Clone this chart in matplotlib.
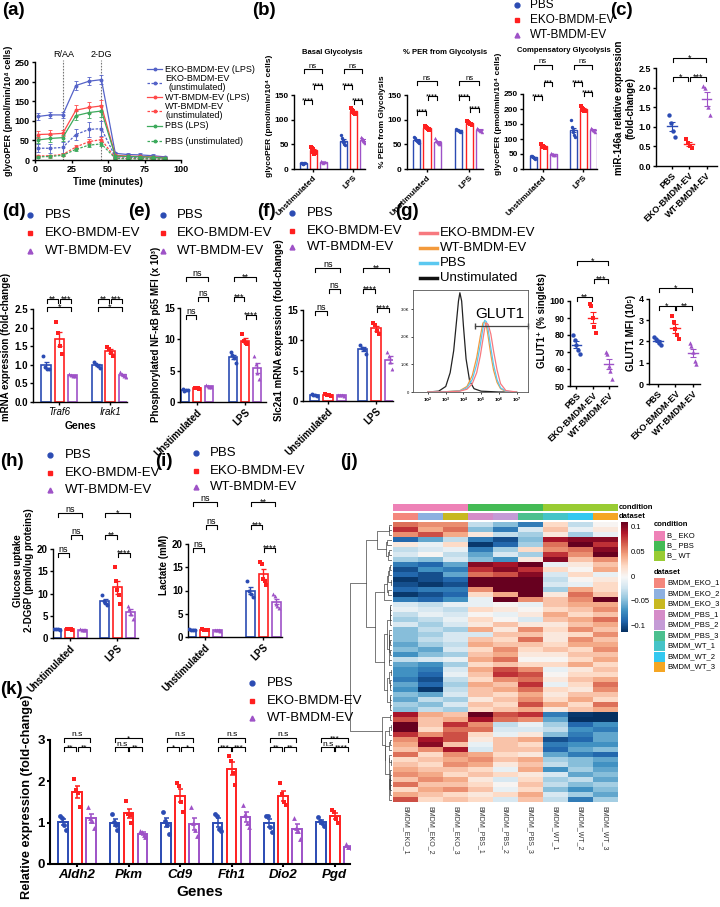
import numpy as np
import matplotlib

matplotlib.use("Agg")
import matplotlib.pyplot as plt
from matplotlib.colors import to_rgb
from matplotlib.lines import Line2D
from matplotlib.patches import Rectangle
from matplotlib.transforms import offset_copy

plt.rcParams["font.family"] = ["Liberation Sans", "DejaVu Sans"]
plt.rcParams["font.weight"] = "bold"
plt.rcParams["axes.labelweight"] = "bold"
plt.rcParams["axes.linewidth"] = 1.0

W, H = 720, 907

GROUPS = ["PBS", "EKO-BMDM-EV", "WT-BMDM-EV"]
COLS = ["#2B4BB3", "#FF1F1F", "#9E52C7"]
MARKS = ["o", "s", "^"]
STIM = ["Unstimulated", "LPS"]

# (a) glycoPER time course
a_time = [2, 10.5, 19, 28, 37, 45.5, 55, 63.5, 72, 80.5, 89]
a_eko_lps = [111, 115, 115, 190, 201, 205, 17, 14, 13, 11, 8]
a_eko_lps_err = [8, 8, 8, 12, 10, 12, 4, 4, 4, 4, 3]
a_eko_un = [30, 30, 32, 65, 78, 80, 8, 7, 6, 5, 4]
a_eko_un_err = [10, 12, 13, 15, 20, 20, 3, 3, 3, 3, 2]
a_wt_lps = [65, 66, 68, 127, 134, 138, 12, 10, 9, 8, 6]
a_wt_lps_err = [8, 10, 8, 14, 14, 15, 3, 3, 3, 3, 2]
a_wt_un = [10, 11, 14, 33, 47, 52, 5, 4, 4, 3, 3]
a_wt_un_err = [3, 3, 4, 5, 6, 6, 2, 2, 2, 2, 1]
a_pbs_lps = [51, 55, 57, 113, 121, 125, 10, 9, 8, 7, 5]
a_pbs_lps_err = [8, 8, 8, 12, 14, 15, 3, 3, 3, 2, 2]
a_pbs_un = [8, 9, 12, 27, 38, 41, 4, 3, 3, 3, 2]
a_pbs_un_err = [3, 3, 3, 4, 5, 5, 1, 1, 1, 1, 1]
a_inject = [19.5, 45.5]
a_inject_lbl = ["R/AA", "2-DG"]

# (b) glycolysis parameters: [unstimulated, LPS] points per group
b_basal_pbs = [[13, 12, 11, 10, 12, 13], [68, 62, 58, 55, 50, 49]]
b_basal_eko = [[45, 43, 40, 35, 30, 33], [123, 120, 118, 115, 113, 112]]
b_basal_wt = [[16, 15, 14, 13, 15, 14], [65, 62, 60, 57, 55, 53]]
b_per_pbs = [[64, 62, 59, 57, 55, 53], [82, 80, 79, 77, 76, 75]]
b_per_eko = [[87, 85, 84, 82, 81, 80], [97, 95, 94, 92, 91, 90]]
b_per_wt = [[62, 58, 56, 53, 51, 50], [83, 81, 80, 78, 77, 76]]
b_comp_pbs = [[45, 43, 41, 39, 37, 35], [162, 140, 130, 125, 115, 108]]
b_comp_eko = [[82, 78, 76, 74, 72, 70], [210, 205, 200, 198, 195, 192]]
b_comp_wt = [[52, 50, 49, 48, 47, 46], [136, 133, 131, 129, 127, 125]]
b_basal_sig = [(0, 0, 1, 140, "****"), (0, 1, 2, 170, "****"), (0, 0, 2, 203, "ns"),
               (1, 0, 1, 170, "****"), (1, 1, 2, 140, "****"), (1, 0, 2, 203, "ns")]
b_per_sig = [(0, 0, 1, 117, "****"), (0, 1, 2, 147, "****"), (0, 0, 2, 178, "ns"),
             (1, 0, 1, 147, "****"), (1, 1, 2, 123, "****"), (1, 0, 2, 178, "ns")]
b_comp_sig = [(0, 0, 1, 242, "****"), (0, 1, 2, 290, "***"), (0, 0, 2, 348, "ns"),
              (1, 0, 1, 290, "****"), (1, 1, 2, 255, "****"), (1, 0, 2, 348, "ns")]

# (c) miR-146a
c_pts = [[1.3, 1.1, 0.9, 0.75], [0.7, 0.58, 0.52, 0.47], [2.03, 2.0, 1.5, 1.3]]
c_sig = [(0, 1, 2.27, "*"), (1, 2, 2.27, "***"), (0, 2, 2.76, "*")]

# (d) Traf6 / Irak1
d_genes = ["Traf6", "Irak1"]
d_pbs = [[1.25, 0.95, 0.9, 0.9], [1.08, 1.02, 0.98, 0.92]]
d_eko = [[2.15, 1.85, 1.5, 1.3], [1.48, 1.42, 1.33, 1.25]]
d_wt = [[0.76, 0.72, 0.7, 0.7], [0.8, 0.74, 0.7, 0.66]]
d_sig = [(0, 0, 1, 2.77, "**"), (0, 1, 2, 2.77, "***"), (0, 0, 2, 2.56, "*"),
         (1, 0, 1, 2.77, "**"), (1, 1, 2, 2.77, "***"), (1, 0, 2, 2.56, "*")]

# (e) phospho NF-kB p65
e_pbs = [[2.0, 1.8, 1.9, 1.9], [8.0, 7.5, 7.0, 6.3]]
e_eko = [[2.3, 2.2, 2.2, 2.1], [10.9, 9.7, 9.4, 9.2]]
e_wt = [[2.7, 2.5, 2.4, 2.4], [7.4, 6.0, 4.6, 3.6]]
e_sig = [(0, 0, 1, 13.9, "ns"), (0, 1, 2, 16.7, "ns"), (0, 0, 2, 20.0, "ns"),
         (1, 0, 1, 16.7, "***"), (1, 1, 2, 13.9, "****"), (1, 0, 2, 20.0, "**")]

# (f) Slc2a1
f_pbs = [[1.1, 1.0, 1.0, 0.9], [9.3, 8.8, 8.5, 7.8]]
f_eko = [[1.1, 1.0, 1.0, 0.9], [12.8, 12.5, 11.6, 11.1]]
f_wt = [[1.0, 0.95, 0.95, 0.9], [8.0, 7.4, 6.5, 5.3]]
f_sig = [(0, 0, 1, 14.8, "ns"), (0, 1, 2, 18.4, "ns"), (0, 0, 2, 21.9, "ns"),
         (1, 0, 1, 18.4, "****"), (1, 1, 2, 15.3, "****"), (1, 0, 2, 21.9, "**")]

# (g) GLUT1 flow histogram (log10 fluorescence, counts)
g_x_unstim = [2.0, 2.6, 3.0, 3.25, 3.45, 3.6, 3.72, 3.8, 3.9, 4.0, 4.15, 4.35, 4.6, 5.0, 6.0, 7.0]
g_y_unstim = [0, 30, 200, 700, 1500, 2500, 3300, 3600, 3300, 2400, 1200, 400, 120, 30, 0, 0]
g_x_glut = [2.0, 3.0, 3.8, 4.2, 4.5, 4.75, 4.95, 5.1, 5.2, 5.3, 5.4, 5.55, 5.7, 5.9, 6.1, 6.4, 7.0]
g_y_pbs = [0, 10, 40, 150, 450, 1000, 1700, 2300, 2600, 2550, 2250, 1600, 1000, 450, 150, 30, 0]
g_y_wt = [0, 10, 50, 200, 600, 1250, 2000, 2500, 2550, 2400, 2000, 1350, 800, 350, 120, 20, 0]
g_y_eko = [0, 5, 30, 100, 300, 700, 1300, 1900, 2300, 2500, 2450, 2100, 1500, 800, 300, 50, 0]
g_gate = [4.65, 7.65]
g_pct = [[80, 77, 74, 71, 69], [98, 97, 90, 85, 81], [70, 69, 62, 59, 54]]
g_pct_sig = [(0, 1, 102.6, "**"), (1, 2, 113, "***"), (0, 2, 123.6, "*")]
g_mfi = [[2.2, 2.1, 2.0, 1.95, 1.85], [3.2, 2.9, 2.6, 2.3, 2.1], [1.95, 1.8, 1.5, 1.1, 0.95]]
g_mfi_sig = [(0, 1, 3.69, "*"), (1, 2, 3.69, "**"), (0, 2, 4.5, "*")]

# (h) glucose uptake
h_pbs = [[2.1, 2.0, 2.0, 1.9], [9.6, 8.3, 7.9, 7.5]]
h_eko = [[2.1, 2.0, 2.0, 1.9], [15.9, 12.8, 10.8, 9.6, 7.7]]
h_wt = [[2.0, 1.9, 1.9, 1.8], [7.2, 6.6, 5.5, 4.3]]
h_sig = [(0, 0, 1, 19.1, "ns"), (0, 1, 2, 23.1, "ns"), (0, 0, 2, 28.0, "ns"),
         (1, 0, 1, 23.1, "**"), (1, 1, 2, 19.1, "****"), (1, 0, 2, 28.0, "*")]

# (i) lactate
i_pbs = [[1.7, 1.6, 1.6, 1.5], [12.0, 10.0, 9.3, 8.7]]
i_eko = [[1.7, 1.6, 1.6, 1.5], [16.2, 15.8, 12.4, 12.0, 11.1]]
i_wt = [[1.5, 1.4, 1.4, 1.3], [9.2, 8.9, 7.0, 6.6, 6.3]]
i_sig = [(0, 0, 1, 19.2, "ns"), (0, 1, 2, 24.1, "ns"), (0, 0, 2, 29.0, "ns"),
         (1, 0, 1, 24.1, "***"), (1, 1, 2, 19.2, "****"), (1, 0, 2, 29.0, "**")]

# (j) heatmap (values x 100)
hm_cols = ["BMDM_EKO_1", "BMDM_EKO_2", "BMDM_EKO_3", "BMDM_PBS_1", "BMDM_PBS_2",
           "BMDM_PBS_3", "BMDM_WT_1", "BMDM_WT_2", "BMDM_WT_3"]
hm_cond = ["B_ EKO", "B_ PBS", "B_ WT"]
hm_cond_of_col = [0, 0, 0, 1, 1, 1, 2, 2, 2]
hm_rows = [
    [6, 5, 5, -3, -5, -8, 2, -3, 0],
    [8, 4, 6, -5, -8, -2, 3, -1, 1],
    [5, 7, 4, 1, -3, -4, 1, -4, -1],
    [-9, -6, -3, -8, -10, -5, 9, 10, 10],
    [1, -1, 2, -11, -9, -4, 6, 11, 8],
    [-3, -2, -1, -8, -4, 2, 5, 6, 10],
    [-2, 0, -3, -6, -2, -4, 8, 5, 12],
    [-4, -5, -2, -5, -7, 1, 10, 3, 5],
    [-8, -9, -6, 10, 9, 11, -1, 1, 3],
    [-10, -7, -8, 8, 10, 8, 2, 0, 4],
    [-9, -10, -6, 6, 7, 10, -2, 2, -1],
    [-11, -10, -9, 11, 12, 12, -3, 0, 1],
    [-10, -11, -10, 12, 12, 12, -2, -1, 2],
    [-9, -8, -8, 5, 11, 12, -4, 4, 2],
    [-11, -10, -9, 2, 4, 12, 1, 6, 3],
    [-8, -9, -7, -1, 12, 5, 3, 5, 11],
    [-2, -3, -1, -1, 0, -1, 3, 4, 4],
    [-1, -2, -3, 2, 1, 0, 2, 3, 5],
    [-3, -1, -2, 0, -1, 1, 4, 2, 3],
    [-4, -3, -1, 2, 0, -2, 3, 4, 6],
    [-2, -4, -2, 1, 3, 1, 1, 3, 4],
    [-5, -3, -4, 4, 1, 5, 2, 5, 3],
    [-5, -4, -2, -2, 3, 3, 1, 2, 5],
    [-5, -3, -2, 3, 2, 6, 1, 5, 3],
    [-6, -4, -3, 4, 3, 3, 2, 4, 4],
    [-5, -6, -2, 2, 5, 2, 3, 2, 5],
    [-7, -5, -4, 3, 4, 1, 1, 3, 3],
    [-3, -2, -1, 4, 6, 0, 0, 2, 4],
    [-6, -7, -4, 2, 3, 2, 2, 4, 2],
    [-7, -8, -2, 4, 7, 5, -1, 1, 3],
    [-7, -9, -1, 3, 8, 7, 0, 2, 2],
    [-8, -10, -3, 2, 5, 6, 1, 3, 4],
    [-6, -9, -4, 4, 3, 8, -1, 2, 6],
    [-7, -11, -3, 3, 4, 6, 2, 1, 5],
    [-5, -6, -2, 3, 2, 4, 1, 3, 3],
    [-6, -3, -4, 1, 3, 5, 2, 4, 2],
    [-4, -5, -2, 3, 2, 7, 4, 2, 6],
    [-5, -3, -4, 2, 3, 4, 1, 3, 4],
    [9, 4, 3, 11, 7, 8, -8, -11, -12],
    [7, 3, 4, 9, 6, 5, -6, -12, -12],
    [11, 3, 8, 5, -3, -1, -4, -9, -7],
    [12, 2, 6, 6, -2, -2, -3, -7, -8],
    [8, 5, 7, 2, -1, 1, -5, -8, -6],
    [5, 9, 7, 1, 3, 4, -10, -9, -6],
    [4, 10, 3, -1, 3, 2, -8, -7, -7],
    [3, 5, 9, -2, 3, 3, -9, -6, -5],
    [6, 2, 5, 4, 2, 1, -6, -8, -9],
    [2, 3, 4, 5, 3, 4, -4, -5, -6],
    [3, 2, 5, 4, 1, 3, -3, -5, -7],
    [4, 3, 3, 2, -1, 4, -7, -4, -6],
    [5, 4, 2, 3, 2, 1, -2, -6, -5],
    [3, 5, 4, 1, -2, 2, -4, -3, -6],
    [6, 3, 3, 2, 0, 3, -3, -5, -4],
    [2, 4, 5, 3, -1, 2, -5, -7, -5],
    [4, 3, 2, 1, 2, 4, -2, -4, -6],
    [7, 2, 3, 2, -2, 3, -3, -8, -4],
]

# (k) qPCR panel
k_genes = ["Aldh2", "Pkm", "Cd9", "Fth1", "Dio2", "Pgd"]
k_pbs = [[1.15, 1.12, 0.95, 0.82], [1.22, 1.02, 0.95, 0.82], [1.27, 1.05, 0.95, 0.72],
         [1.2, 1.15, 0.85, 0.8], [1.17, 1.15, 0.9, 0.78], [1.13, 1.03, 1.0, 0.92]]
k_eko = [[2.05, 1.8, 1.72, 1.38], [1.52, 1.22, 1.18, 1.0], [1.97, 1.88, 1.5, 1.27],
         [2.62, 2.5, 2.2, 1.9], [1.95, 1.7, 1.5, 1.42], [1.3, 1.25, 1.08, 0.98]]
k_wt = [[1.38, 1.12, 1.05, 0.88], [0.8, 0.78, 0.7, 0.65], [1.38, 1.0, 0.82, 0.68],
        [1.42, 1.22, 1.0, 0.9], [1.12, 0.88, 0.8, 0.6], [0.48, 0.42, 0.4, 0.38]]
k_labels = [("n.s", "**", "**"), ("*", "n.s", "**"), ("n.s", "*", "*"),
            ("n.s", "***", "***"), ("n.s", "**", "**"), ("***", "n.s", "****")]

JIT = {4: [-0.3, -0.1, 0.1, 0.3], 5: [-0.32, -0.16, 0, 0.16, 0.32],
       6: [-0.33, -0.2, -0.07, 0.07, 0.2, 0.33]}

fig = plt.figure(figsize=(W / 100, H / 100), dpi=100)


def fx(x):
    return x / W


def fy(y):
    return 1 - y / H


def make_ax(x0, x1, y0px, v0, y1px, v1, vtop, xlim):
    ppu = (y0px - y1px) / (v1 - v0)
    top = y0px - (vtop - v0) * ppu
    ax = fig.add_axes([x0 / W, 1 - y0px / H, (x1 - x0) / W, (y0px - top) / H])
    ax.set_ylim(v0, vtop)
    ax.set_xlim(*xlim)
    return ax


def style(ax, yticks, fs, ytl=None, lw=1.0):
    ax.spines["top"].set_visible(False)
    ax.spines["right"].set_visible(False)
    ax.spines["left"].set_bounds(yticks[0], yticks[-1])
    for s in ("left", "bottom"):
        ax.spines[s].set_linewidth(lw)
    ax.set_yticks(yticks)
    if ytl is not None:
        ax.set_yticklabels(ytl)
    ax.tick_params(labelsize=fs, width=lw, length=2.5, pad=1.2)


def px_per_unit(ax):
    y0, y1 = ax.get_ylim()
    return ax.get_position().height * H / (y1 - y0)


def bracket(ax, x1, x2, y, label, fs, drop=4):
    d = drop / px_per_unit(ax)
    ax.plot([x1, x1, x2, x2], [y - d, y, y, y - d], color="k", lw=0.8, clip_on=False)
    star = set(label) == {"*"}
    tr = offset_copy(ax.transData, fig=fig, y=(-0.3 * fs if star else 0.8), units="points")
    ax.text((x1 + x2) / 2, y, label, transform=tr, ha="center", va="baseline",
            fontsize=fs, fontweight="normal", clip_on=False)


def bar_panel(ax, centers, series, width=0.7, lw=1.2, ms=8):
    for k, groups in enumerate(series):
        for c, pts in zip(centers, groups):
            p = np.asarray(pts, float)
            x = c + (k - 1)
            m = p.mean()
            se = p.std(ddof=1) / np.sqrt(len(p))
            ax.bar(x, m, width=width, facecolor="white", edgecolor=COLS[k], linewidth=lw, zorder=2)
            ax.errorbar(x, m, yerr=se, fmt="none", ecolor=COLS[k], elinewidth=lw * 0.8,
                        capsize=1.8, capthick=lw * 0.8, zorder=3)
            ax.scatter(x + np.array(JIT[len(p)]) * width, p, marker=MARKS[k], s=ms,
                       color=COLS[k], linewidths=0, zorder=4)


def bar_sig(ax, centers, sig, fs, inset=0.06):
    for g, i, j, y, lab in sig:
        bracket(ax, centers[g] + i - 1 + inset, centers[g] + j - 1 - inset, y, lab, fs)


def dot_panel(ax, series, ms=10):
    for k, pts in enumerate(series):
        p = np.asarray(pts, float)
        m = p.mean()
        se = p.std(ddof=1) / np.sqrt(len(p))
        ax.scatter(k + np.array(JIT[len(p)]) * 0.6, p, marker=MARKS[k], s=ms,
                   color=COLS[k], linewidths=0, zorder=3)
        ax.plot([k - 0.28, k + 0.28], [m, m], color=COLS[k], lw=1.0, zorder=4)
        ax.errorbar(k, m, yerr=se, fmt="none", ecolor=COLS[k], elinewidth=0.8,
                    capsize=2.5, capthick=0.8, zorder=4)


def stim_xticks(ax, centers, fs):
    ax.set_xticks(centers)
    ax.set_xticklabels(STIM, rotation=45, ha="right", rotation_mode="anchor", fontsize=fs,
                       fontweight="bold")


def group_legend(xm, xt, ys, fs=9.5, ms=3.5):
    for k, (lab, y) in enumerate(zip(GROUPS, ys)):
        fig.add_artist(Line2D([fx(xm)], [fy(y)], transform=fig.transFigure, marker=MARKS[k],
                              color=COLS[k], ms=ms, ls="none"))
        fig.text(fx(xt), fy(y), lab, fontsize=fs, va="center", fontweight="normal")


def panel_label(x, y, s):
    fig.text(fx(x), fy(y), s, fontsize=13.5, fontweight="bold", va="top", ha="left")


# ---------------- (a)
ax = make_ax(35, 181, 160, 0, 62, 250, 250, (0, 100))
a_series = [
    (a_eko_lps, a_eko_lps_err, "#5563C8", "-", "EKO-BMDM-EV (LPS)", 69),
    (a_eko_un, a_eko_un_err, "#5563C8", (0, (2, 1.2)), "EKO-BMDM-EV\n(unstimulated)", 83),
    (a_wt_lps, a_wt_lps_err, "#FF4A4A", "-", "WT-BMDM-EV (LPS)", 97),
    (a_wt_un, a_wt_un_err, "#FF4A4A", (0, (2, 1.2)), "WT-BMDM-EV\n(unstimulated)", 111),
    (a_pbs_lps, a_pbs_lps_err, "#3DAA5C", "-", "PBS (LPS)", 126),
    (a_pbs_un, a_pbs_un_err, "#3DAA5C", (0, (2, 1.2)), "PBS (unstimulated)", 141),
]
for vals, err, c, ls, lab, ly in a_series:
    ax.errorbar(a_time, vals, yerr=err, color=c, ls=ls, lw=0.9, marker="o", ms=1.8,
                capsize=1.2, elinewidth=0.6, capthick=0.6)
    fig.add_artist(Line2D([fx(147), fx(154.5), fx(162)], [fy(ly)] * 3, transform=fig.transFigure,
                          color=c, ls=ls, lw=0.9, marker="o", ms=1.8, markevery=[1]))
    fig.text(fx(165), fy(ly), lab, fontsize=6.5, va="center", fontweight="normal",
             multialignment="center", linespacing=1.05)
for t, lab in zip(a_inject, a_inject_lbl):
    ax.plot([t, t], [0, 256], color="#777777", ls=(0, (1.5, 1.2)), lw=0.8, clip_on=False, zorder=1)
    ax.text(t, 258, lab, ha="center", va="bottom", fontsize=6.5, fontweight="normal")
style(ax, [0, 50, 100, 150, 200, 250], 6.5)
ax.set_xticks([0, 25, 50, 75, 100])
ax.set_xlabel("Time (minutes)", fontsize=7, labelpad=2)
ax.set_ylabel("glycoPER (pmol/min/10⁴ cells)", fontsize=6.5, labelpad=1)
panel_label(2, 2, "(a)")

# ---------------- (b)
b_specs = [
    (294, 365, 150, [0, 50, 100, 150], 215, (-1.9, 5.2), "Basal Glycolysis", 332, 53,
     [b_basal_pbs, b_basal_eko, b_basal_wt], b_basal_sig, "glycoPER (pmol/min/10⁴ cells)"),
    (407, 483, 150, [0, 50, 100, 150], 190, (-1.9, 5.3), "% PER from Glycolysis", 445, 53,
     [b_per_pbs, b_per_eko, b_per_wt], b_per_sig, "% PER from Glycolysis"),
    (523, 597, 250, [0, 50, 100, 150, 200, 250], 370, (-2.0, 5.4), "Compensatory Glycolysis", 564, 50,
     [b_comp_pbs, b_comp_eko, b_comp_wt], b_comp_sig, "glycoPER (pmol/min/10⁴ cells)"),
]
b_centers = [0, 4]
for x0, x1, ymax, yt, vtop, xl, title, tx, ty, series, sig, ylab in b_specs:
    ref_px = 95 if ymax == 150 else 94
    ax = make_ax(x0, x1, 169, 0, ref_px, ymax, vtop, xl)
    bar_panel(ax, b_centers, series, lw=1.0, ms=6)
    style(ax, yt, 6)
    stim_xticks(ax, b_centers, 6)
    bar_sig(ax, b_centers, sig, 5.5)
    ax.set_ylabel(ylab, fontsize=6, labelpad=1)
    fig.text(fx(tx), fy(ty), title, fontsize=5.5, ha="center", va="center", fontweight="bold")
group_legend(517, 530, [5, 20, 35], fs=8.5)
panel_label(252, 2, "(b)")

# ---------------- (c)
ax = make_ax(656, 717, 166, 0, 68, 2.5, 2.95, (-0.9, 2.6))
dot_panel(ax, c_pts)
style(ax, [0, 0.5, 1, 1.5, 2, 2.5], 6.5, ["0.0", "0.5", "1.0", "1.5", "2.0", "2.5"])
ax.set_xticks([0, 1, 2])
ax.set_xticklabels(GROUPS, rotation=45, ha="right", rotation_mode="anchor", fontsize=6.5)
for i, j, y, lab in c_sig:
    bracket(ax, i + 0.05, j - 0.05, y, lab, 6.5)
ax.set_ylabel("miR-146a relative expression\n(fold-change)", fontsize=7, labelpad=2)
panel_label(610, 2, "(c)")

# ---------------- (d)
ax = make_ax(33, 127, 402, 0, 309, 2.5, 2.95, (-2.0, 5.2))
d_centers = [0, 3.9]
bar_panel(ax, d_centers, [d_pbs, d_eko, d_wt])
style(ax, [0, 0.5, 1, 1.5, 2, 2.5], 7, ["0.0", "0.5", "1.0", "1.5", "2.0", "2.5"])
ax.set_xticks(d_centers)
ax.set_xticklabels(d_genes, fontsize=7, fontstyle="italic", fontweight="normal")
bar_sig(ax, d_centers, d_sig, 6.5)
ax.set_ylabel("mRNA expression (fold-change)", fontsize=7, labelpad=2)
ax.set_xlabel("Genes", fontsize=7.5, labelpad=3)
group_legend(30, 45, [215, 233, 251])
panel_label(2, 203, "(d)")

# ---------------- (e)
ax = make_ax(180, 266, 402, 0, 308, 15, 21.5, (-1.45, 5.9))
e_centers = [0, 4.1]
bar_panel(ax, e_centers, [e_pbs, e_eko, e_wt])
style(ax, [0, 5, 10, 15], 7)
stim_xticks(ax, e_centers, 7)
bar_sig(ax, e_centers, e_sig, 6.5)
ax.set_ylabel("Phosphorylated NF-κB p65 MFI (x 10³)", fontsize=7, labelpad=2)
group_legend(163, 177, [215, 233, 251])
panel_label(128, 203, "(e)")

# ---------------- (f)
ax = make_ax(303, 393, 401, 0, 310, 15, 23.5, (-1.85, 4.86))
f_centers = [0, 3.6]
bar_panel(ax, f_centers, [f_pbs, f_eko, f_wt])
style(ax, [0, 5, 10, 15], 7)
stim_xticks(ax, f_centers, 7)
bar_sig(ax, f_centers, f_sig, 6.5)
ax.set_ylabel("Slc2a1 mRNA expression (fold-change)", fontsize=7, labelpad=2)
group_legend(292, 307, [213, 231, 247])
panel_label(257, 203, "(f)")

# ---------------- (g) histogram
ax = fig.add_axes([fx(413), fy(392), (528 - 413) / W, (392 - 290) / H])
ax.plot(g_x_unstim, g_y_unstim, color="#222222", lw=0.9)
ax.plot(g_x_glut, g_y_wt, color="#F39A3C", lw=0.9)
ax.plot(g_x_glut, g_y_pbs, color="#5BC8F0", lw=0.9)
ax.plot(g_x_glut, g_y_eko, color="#F7797F", lw=0.9)
ax.plot(g_gate, [2400, 2400], color="#444444", lw=0.9, marker="|", ms=5, clip_on=False)
ax.text(6.05, 2560, "GLUT1", fontsize=11, fontweight="normal", ha="center", va="bottom")
ax.set_xlim(1.15, 7.65)
ax.set_ylim(0, 3700)
ax.set_xticks([2, 3, 4, 5, 6, 7])
ax.set_xticklabels([f"$10^{n}$" for n in range(2, 8)], fontsize=3, fontweight="normal")
ax.set_yticks([0, 1000, 2000, 3000])
ax.set_yticklabels(["0", "1.0K", "2.0K", "3.0K"], fontsize=3, fontweight="normal")
ax.tick_params(length=1.5, width=0.5, pad=1)
for s in ax.spines.values():
    s.set_linewidth(0.6)
    s.set_color("#555555")
g_leg = [("EKO-BMDM-EV", "#F7797F", 233), ("WT-BMDM-EV", "#F39A3C", 248),
         ("PBS", "#5BC8F0", 263), ("Unstimulated", "#111111", 278)]
for lab, c, y in g_leg:
    fig.add_artist(Line2D([fx(420), fx(437)], [fy(y)] * 2, transform=fig.transFigure, color=c, lw=2.5))
    fig.text(fx(440), fy(y), lab, fontsize=9.5, va="center", fontweight="normal")
panel_label(395, 203, "(g)")

ax = make_ax(570, 617, 386, 50, 301, 100, 127, (-0.4, 2.5))
dot_panel(ax, g_pct)
style(ax, [50, 60, 70, 80, 90, 100], 6.5)
ax.set_xticks([0, 1, 2])
ax.set_xticklabels(GROUPS, rotation=45, ha="right", rotation_mode="anchor", fontsize=6.5)
for i, j, y, lab in g_pct_sig:
    bracket(ax, i + 0.05, j - 0.05, y, lab, 6.5)
ax.set_ylabel("GLUT1⁺ (% singlets)", fontsize=7, labelpad=2)

ax = make_ax(649, 700, 384, 0, 299, 4, 4.8, (-0.5, 2.4))
dot_panel(ax, g_mfi)
style(ax, [0, 1, 2, 3, 4], 6.5)
ax.set_xticks([0, 1, 2])
ax.set_xticklabels(GROUPS, rotation=45, ha="right", rotation_mode="anchor", fontsize=6.5)
for i, j, y, lab in g_mfi_sig:
    bracket(ax, i + 0.05, j - 0.05, y, lab, 6.5)
ax.set_ylabel("GLUT1 MFI (10⁵)", fontsize=7, labelpad=2)

# ---------------- (h)
ax = make_ax(53, 138, 638, 0, 549, 20, 30.5, (-1.3, 5.3))
h_centers = [0, 3.7]
bar_panel(ax, h_centers, [h_pbs, h_eko, h_wt])
style(ax, [0, 5, 10, 15, 20], 7)
stim_xticks(ax, h_centers, 7)
bar_sig(ax, h_centers, h_sig, 6.5)
ax.set_ylabel("Glucose uptake\n2-DG6P (pmol/ug proteins)", fontsize=7, labelpad=2)
group_legend(50, 65, [455, 473, 490])
panel_label(0, 453, "(h)")

# ---------------- (i)
ax = make_ax(188, 282, 637, 0, 544, 20, 31, (-1.3, 5.96))
i_centers = [0, 4.5]
bar_panel(ax, i_centers, [i_pbs, i_eko, i_wt])
style(ax, [0, 5, 10, 15, 20], 7)
stim_xticks(ax, i_centers, 7)
bar_sig(ax, i_centers, i_sig, 6.5)
ax.set_ylabel("Lactate (mM)", fontsize=7, labelpad=2)
group_legend(196, 210, [453, 471, 487])
panel_label(155, 453, "(i)")

# ---------------- (j) heatmap
hm = np.array(hm_rows) / 100.0
n_rows = hm.shape[0]
cond_cols = ["#EE82B7", "#44BB55", "#99CC33"]
ds_cols = ["#F4877D", "#8DB0E0", "#C8B820", "#D58CC8", "#C49BD6", "#4CC08F",
           "#45C4C8", "#33C8F0", "#F5A623"]

ax_c = fig.add_axes([fx(393), fy(511), (617 - 393) / W, 7 / H])
ax_c.imshow(np.array([[to_rgb(cond_cols[c]) for c in hm_cond_of_col]]), aspect="auto")
ax_d = fig.add_axes([fx(393), fy(520), (617 - 393) / W, 7 / H])
ax_d.imshow(np.array([[to_rgb(c) for c in ds_cols]]), aspect="auto")
for a in (ax_c, ax_d):
    a.set_axis_off()
fig.text(fx(619), fy(507.5), "condition", fontsize=5.5, va="center", fontweight="bold")
fig.text(fx(619), fy(516.5), "dataset", fontsize=5.5, va="center", fontweight="bold")

ax_h = fig.add_axes([fx(393), fy(802), (617 - 393) / W, (802 - 522) / H])
im = ax_h.imshow(hm, cmap="RdBu_r", vmin=-0.114, vmax=0.11, aspect="auto", interpolation="nearest")
ax_h.set_yticks([])
ax_h.set_xticks(range(len(hm_cols)))
ax_h.set_xticklabels(hm_cols, rotation=-90, fontsize=5, fontweight="normal", color="#333333")
ax_h.tick_params(length=0, pad=3)
for s in ax_h.spines.values():
    s.set_visible(False)


def dendro_segments(M):
    clusters = [{"x": float(i), "h": 0.0, "n": 1, "v": M[i].astype(float)} for i in range(len(M))]
    segs = []
    while len(clusters) > 1:
        d = []
        for a, b in zip(clusters[:-1], clusters[1:]):
            w = np.sqrt(a["n"] * b["n"] / (a["n"] + b["n"]))
            d.append(w * np.linalg.norm(a["v"] - b["v"]))
        k = int(np.argmin(d))
        a, b = clusters[k], clusters[k + 1]
        h = max(d[k], a["h"], b["h"])
        segs.append(([a["h"], h, h, b["h"]], [a["x"], a["x"], b["x"], b["x"]]))
        n = a["n"] + b["n"]
        clusters[k:k + 2] = [{"x": (a["x"] + b["x"]) / 2, "h": h, "n": n,
                              "v": (a["v"] * a["n"] + b["v"] * b["n"]) / n}]
    return segs


ax_t = fig.add_axes([fx(350), fy(802), (392 - 350) / W, (802 - 522) / H])
segs = dendro_segments(hm)
hmax = max(max(s[0]) for s in segs)
for xs, ys in segs:
    ax_t.plot(xs, ys, color="#444444", lw=0.5)
ax_t.set_xlim(hmax * 1.01, 0)
ax_t.set_ylim(n_rows - 0.5, -0.5)
ax_t.set_axis_off()

ax_cb = fig.add_axes([fx(621), fy(632), 7 / W, 110 / H])
cb = fig.colorbar(im, cax=ax_cb)
cb.set_ticks([0.1, 0.05, 0, -0.05, -0.1])
cb.set_ticklabels(["0.1", "0.05", "0", "−0.05", "−0.1"])
cb.outline.set_visible(False)
ax_cb.tick_params(length=0, labelsize=5.5, pad=2)
for t in ax_cb.get_yticklabels():
    t.set_fontweight("normal")

fig.text(fx(654), fy(525), "condition", fontsize=5.5, va="center", fontweight="bold")
for i, (lab, c) in enumerate(zip(hm_cond, cond_cols)):
    y = 536 + 10 * i
    fig.add_artist(Rectangle((fx(654), fy(y + 5)), 11 / W, 10 / H, transform=fig.transFigure,
                             facecolor=c, edgecolor="none"))
    fig.text(fx(667), fy(y), lab, fontsize=5.5, va="center", fontweight="normal")
fig.text(fx(654), fy(573), "dataset", fontsize=5.5, va="center", fontweight="bold")
for i, (lab, c) in enumerate(zip(hm_cols, ds_cols)):
    y = 583 + 10.5 * i
    fig.add_artist(Rectangle((fx(654), fy(y + 5)), 11 / W, 10 / H, transform=fig.transFigure,
                             facecolor=c, edgecolor="none"))
    fig.text(fx(667), fy(y), lab, fontsize=5.5, va="center", fontweight="normal")
panel_label(340, 453, "(j)")

# ---------------- (k)
k_centers = list(np.arange(len(k_genes)) * 3.68)
ax = make_ax(50, 350, 864, 0, 740, 3, 3.25, (-1.93, 19.5))
bar_panel(ax, k_centers, [k_pbs, k_eko, k_wt], lw=1.4, ms=12)
style(ax, [0, 1, 2, 3], 9.5, lw=1.5)
ax.set_xticks(k_centers)
ax.set_xticklabels(k_genes, fontsize=9.5, fontstyle="italic", fontweight="bold")
for c, (outer, left, right) in zip(k_centers, k_labels):
    bracket(ax, c - 1 + 0.06, c - 0.06, 2.84, left, 6)
    bracket(ax, c + 0.06, c + 1 - 0.06, 2.84, right, 6)
    bracket(ax, c - 1 + 0.06, c + 1 - 0.06, 3.06, outer, 6)
ax.set_ylabel("Relative expression (fold-change)", fontsize=9.2, labelpad=3)
ax.set_xlabel("Genes", fontsize=11, labelpad=3)
group_legend(252, 267, [683, 701, 718])
panel_label(0, 681, "(k)")

fig.savefig("out.png", dpi=100)
